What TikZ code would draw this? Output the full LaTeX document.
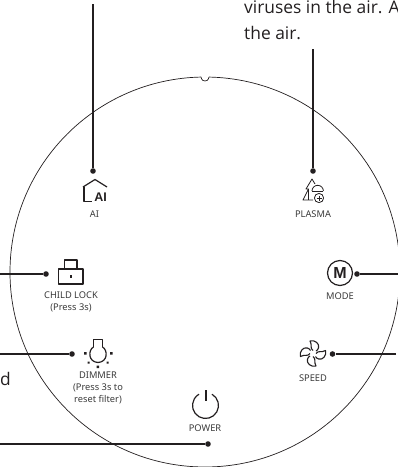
\documentclass[tikz,border=0pt]{standalone}
\usepackage{fontspec}
\setmainfont{Noto Sans}
\newfontfamily\bodyf{Open Sans}
\newfontfamily\iconf{Liberation Sans}
\definecolor{ink}{HTML}{231F20}
\definecolor{lab}{HTML}{3A3A3A}
\tikzset{
  lead/.style={draw=ink,line width=1.25pt},
  dotn/.style={circle,fill=ink,inner sep=0pt,minimum size=5.6pt},
  lbl/.style={text=lab,font=\fontsize{9.3}{11.7}\selectfont,align=center,inner sep=0pt},
  body/.style={text=ink,font=\bodyf\fontsize{17.4}{20}\selectfont,inner sep=0pt,anchor=base west},
  ic/.style={draw=ink,line width=1.2pt,line join=round},
  icthin/.style={draw=ink,line width=.8pt,line join=round}
}
\begin{document}
\begin{tikzpicture}[x=1pt,y=-1pt]
\useasboundingbox (0,0) rectangle (398,467);
\clip (0,0) rectangle (398,467);
% circle with notch
\draw[draw=ink,line width=.7pt] (209,77.05) arc[start angle=-88.82,end angle=268.82,radius=195] .. controls (201.8,80.5) and (203.5,81) .. (205,81) .. controls (206.5,81) and (208.2,80.5) .. (209,77.05);
% text
\node[body] (t1) at (244,13) {viruses in the air. A};
\node[body] (t2) at (244,39) {the air.};
\node[body] (t3) at (0,385) {d};
% anchors
\coordinate (aiS) at (93,4);
\coordinate (plS) at (313,49);
\coordinate (clS) at (-2,274);
\coordinate (moS) at (400,274);
\coordinate (diS) at (-2,354);
\coordinate (spS) at (396,354);
\coordinate (poS) at (-2,444);
\node[dotn] (aiD) at (93,171) {};
\node[dotn] (plD) at (313,171) {};
\node[dotn] (clD) at (46,274) {};
\node[dotn] (moD) at (357,274) {};
\node[dotn] (diD) at (72,354) {};
\node[dotn] (spD) at (332.5,354) {};
\node[dotn] (poD) at (208,444) {};
\draw[lead] (aiS) -- (aiD);
\draw[lead] (plS) -- (plD);
\draw[lead] (clS) -- (clD);
\draw[lead] (moS) -- (moD);
\draw[lead] (diS) -- (diD);
\draw[lead] (spS) -- (spD);
\draw[lead] (poS) -- (poD);
% labels
\node[lbl] (aiL) at (94.5,214) {AI};
\node[lbl] (plL) at (313,214) {PLASMA};
\node[lbl] (clL) at (71,302) {CHILD LOCK\\(Press 3s)};
\node[lbl] (moL) at (340,296) {MODE};
\node[lbl] (diL) at (98,388) {DIMMER\\(Press 3s to\\reset filter)};
\node[lbl] (spL) at (313,378) {SPEED};
\node[lbl] (poL) at (205,428) {POWER};
% AI icon
\draw[ic] (83,187) -- (95,179.5) -- (107,187);
\draw[ic] (84,186.5) -- (84,201.5) -- (92,201.5);
\node[inner sep=0pt,text=ink,font=\iconf\bfseries\fontsize{12.5}{13}\selectfont] (aiT) at (100.5,197.5) {AI};
% Lock
\draw[ic] (58.5,269) rectangle (83,284);
\draw[ic] (64.5,269) -- (64.5,260) -- (77,260) -- (77,269);
\fill[ink] (69.5,274.5) rectangle (71.8,278);
% Plasma
\draw[icthin] (315,184) -- (312,179) -- (306,189) -- (308.5,189) -- (303,200) -- (313,200);
\draw[icthin] (308.5,189) -- (308.5,200);
\draw[icthin] (312,191) arc[start angle=180,end angle=360,radius=5.7];
\draw[icthin] (312,191) -- (323.4,191);
\draw[icthin] (319,198) circle (4.6);
\draw[icthin] (316.5,198) -- (321.5,198) (319,195.5) -- (319,200.5);
% Mode
\draw[ic] (340,273) circle (12.5);
\node[inner sep=0pt,text=ink,font=\iconf\bfseries\fontsize{16}{17}\selectfont] (moT) at (340,273) {M};
% Dimmer
\draw[ic] (93.5,347) -- (93.5,339.5) -- (102.5,339.5) -- (102.5,347);
\draw[ic] (93.5,347) .. controls (88,350) and (88,362) .. (98,362.5) .. controls (108,362) and (108,350) .. (102.5,347);
\fill[ink] (84,352) rectangle (86.5,354.5) (110,352) rectangle (112.5,354.5) (96.7,365.5) rectangle (99.2,368);
\fill[ink] (87.5,361.5) rectangle (89.5,363.5) (106.5,361.5) rectangle (108.5,363.5);
% Speed
\foreach \a in {0,90,180,270}{
  \draw[ic,line width=1.1pt,shift={(313,353.5)},rotate=\a] (0,-3) .. controls (-3.5,-5.5) and (-0.5,-8.5) .. (-3,-12.5) .. controls (1.5,-14) and (7,-10) .. (5.5,-5.5) .. controls (5,-4) and (4,-3) .. (3,-2.5);
}
% Power
\draw[ic,line width=1.2pt] (212,394.2) arc[start angle=-60,end angle=240,radius=13];
\draw[ic,line width=1.2pt] (206,390) -- (206,401);
\end{tikzpicture}
\end{document}
